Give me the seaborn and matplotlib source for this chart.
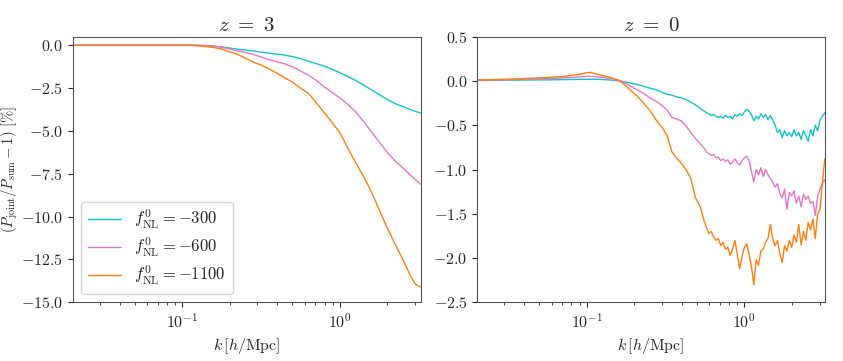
import numpy as np
import pandas as pd
import matplotlib
matplotlib.use("Agg")
import matplotlib.pyplot as plt
import seaborn as sns

# fNL labels and colours
labels = [r"$f^0_{\rm NL} = -300$", r"$f^0_{\rm NL} = -600$", r"$f^0_{\rm NL} = -1100$"]
colors = ["#17becf", "#e377c2", "#ff7f0e"]

# z = 3 panel (log10 k, percent difference)
logk_z3 = [-1.69, -1.5, -1.3, -1.1, -1.0, -0.95, -0.9, -0.85, -0.8, -0.75, -0.7, -0.65,
           -0.6, -0.55, -0.5, -0.45, -0.4, -0.35, -0.3, -0.25, -0.2, -0.15, -0.1, -0.05,
           0.0, 0.05, 0.1, 0.15, 0.2, 0.25, 0.3, 0.35, 0.4, 0.45, 0.48, 0.51]
m300_z3 = [0, 0, 0, 0, 0, 0, -0.01, -0.03, -0.06, -0.09, -0.16, -0.23, -0.28, -0.33,
           -0.40, -0.46, -0.52, -0.57, -0.66, -0.78, -0.93, -1.07, -1.22, -1.40, -1.60,
           -1.82, -2.05, -2.32, -2.60, -2.88, -3.16, -3.40, -3.58, -3.76, -3.86, -3.95]
m600_z3 = [0, 0, 0, 0, 0, 0, 0, -0.01, -0.04, -0.12, -0.22, -0.33, -0.42, -0.53, -0.68,
           -0.84, -0.96, -1.08, -1.27, -1.50, -1.74, -2.05, -2.42, -2.75, -3.07, -3.45,
           -3.88, -4.45, -5.05, -5.65, -6.24, -6.75, -7.15, -7.60, -7.85, -8.10]
m1100_z3 = [0, 0, 0, 0, 0, 0, -0.03, -0.08, -0.13, -0.22, -0.38, -0.52, -0.75, -0.98,
            -1.15, -1.38, -1.62, -1.90, -2.15, -2.50, -2.80, -3.35, -3.92, -4.50, -5.10,
            -6.00, -6.85, -7.65, -8.55, -9.60, -10.65, -11.60, -12.50, -13.50, -13.95, -14.10]

# z = 0 panel
logk_z0 = [-1.69, -1.5, -1.3, -1.15, -1.05, -0.98, -0.92, -0.86, -0.8, -0.76, -0.72, -0.68,
           -0.64, -0.6, -0.56, -0.52, -0.49, -0.46, -0.43, -0.4, -0.37, -0.34, -0.31, -0.28,
           -0.255,
           -0.24, -0.225, -0.21, -0.195, -0.18, -0.165, -0.15, -0.135, -0.12, -0.105,
           -0.09, -0.075, -0.06, -0.045, -0.03, -0.015, 0.0, 0.015, 0.03, 0.045,
           0.06, 0.075, 0.09, 0.105, 0.12, 0.135, 0.15, 0.165, 0.18, 0.195,
           0.21, 0.225, 0.24, 0.255, 0.27, 0.285, 0.3, 0.315, 0.33, 0.345,
           0.36, 0.375, 0.39, 0.405, 0.42, 0.435, 0.45, 0.465, 0.48, 0.495, 0.51]
m300_z0 = [0.005, 0.01, 0.012, 0.015, 0.018, 0.02, 0.018, 0.012, 0.003, -0.01, -0.025, -0.04,
           -0.06, -0.08, -0.10, -0.13, -0.15, -0.16, -0.18, -0.19, -0.21, -0.24, -0.27, -0.31,
           -0.34,
           -0.36, -0.37, -0.39, -0.38, -0.40, -0.41, -0.40, -0.42, -0.39, -0.41,
           -0.40, -0.43, -0.38, -0.40, -0.37, -0.39, -0.35, -0.32, -0.34, -0.38,
           -0.45, -0.40, -0.43, -0.37, -0.41, -0.38, -0.44, -0.39, -0.44, -0.50,
           -0.58, -0.55, -0.64, -0.56, -0.62, -0.58, -0.63, -0.55, -0.62, -0.58,
           -0.66, -0.56, -0.62, -0.68, -0.55, -0.62, -0.50, -0.56, -0.44, -0.40, -0.36]
m600_z0 = [0.01, 0.015, 0.025, 0.035, 0.045, 0.053, 0.045, 0.03, 0.01, -0.02, -0.06, -0.10,
           -0.14, -0.19, -0.23, -0.28, -0.33, -0.41, -0.43, -0.45, -0.51, -0.58, -0.65, -0.71,
           -0.76,
           -0.80, -0.82, -0.84, -0.83, -0.87, -0.86, -0.90, -0.88, -0.91, -0.89,
           -0.94, -0.92, -0.88, -0.92, -0.95, -0.90, -0.87, -0.85, -0.90, -1.02,
           -1.14, -1.00, -1.06, -0.98, -1.08, -1.00, -1.06, -1.10, -1.14, -1.20,
           -1.16, -1.27, -1.32, -1.22, -1.45, -1.26, -1.30, -1.24, -1.38, -1.30,
           -1.42, -1.28, -1.34, -1.30, -1.38, -1.36, -1.52, -1.30, -1.22, -1.15, -1.12]
m1100_z0 = [0.01, 0.02, 0.035, 0.05, 0.075, 0.098, 0.07, 0.045, 0.01, -0.04, -0.11, -0.17,
            -0.25, -0.33, -0.44, -0.53, -0.62, -0.80, -0.87, -0.93, -1.00, -1.10, -1.32, -1.42,
            -1.58,
            -1.66, -1.72, -1.70, -1.76, -1.80, -1.78, -1.86, -1.82, -1.90, -1.88,
            -1.97, -1.90, -1.80, -1.95, -2.12, -1.98, -1.88, -1.84, -1.96, -2.10,
            -2.30, -2.02, -2.08, -1.92, -1.90, -1.82, -1.78, -1.62, -1.78, -1.86,
            -1.80, -1.95, -2.05, -1.86, -1.92, -1.80, -1.88, -1.74, -1.82, -1.62,
            -1.85, -1.70, -1.80, -1.60, -1.68, -1.56, -1.78, -1.50, -1.45, -1.15, -0.88]


def to_frame(logk, series):
    parts = []
    for lab, vals in zip(labels, series):
        parts.append(pd.DataFrame({"k": 10 ** np.array(logk), "diff": vals, "model": lab}))
    return pd.concat(parts, ignore_index=True)


df_z3 = to_frame(logk_z3, [m300_z3, m600_z3, m1100_z3])
df_z0 = to_frame(logk_z0, [m300_z0, m600_z0, m1100_z0])

sns.set_style("ticks")
plt.rcParams["font.family"] = "serif"
plt.rcParams["font.serif"] = ["cmr10"]
plt.rcParams["mathtext.fontset"] = "cm"
plt.rcParams["axes.formatter.use_mathtext"] = True
plt.rcParams["axes.unicode_minus"] = True

pal = dict(zip(labels, colors))

fig, axes = plt.subplots(1, 2, figsize=(8.43, 3.61), dpi=100)
fig.subplots_adjust(left=0.0863, right=0.9787, bottom=0.1626, top=0.8983, wspace=0.163)

ax = axes[0]
sns.lineplot(data=df_z3, x="k", y="diff", hue="model", palette=pal, hue_order=labels,
             linewidth=1.0, errorbar=None, ax=ax)
ax.set_xscale("log")
ax.set_xlim(0.0202, 3.25)
ax.set_ylim(-15, 0.5)
ax.set_yticks(np.arange(-15, 0.1, 2.5))
ax.set_title(r"$z\ =\ 3$", fontsize=15, pad=4)
ax.set_xlabel(r"$k\,[h/{\rm Mpc}]$", fontsize=11.5)
ax.set_ylabel(r"$(P_{\rm joint}/P_{\rm sum} - 1)\ [\%]$", fontsize=10.5)
ax.yaxis.set_label_coords(-0.152, 0.5)
sns.move_legend(ax, "lower left", title=None, fontsize=12, labelspacing=0.3)

ax = axes[1]
sns.lineplot(data=df_z0, x="k", y="diff", hue="model", palette=pal, hue_order=labels,
             linewidth=1.0, errorbar=None, legend=False, ax=ax)
ax.set_xscale("log")
ax.set_xlim(0.0202, 3.25)
ax.set_ylim(-2.5, 0.5)
ax.set_yticks(np.arange(-2.5, 0.51, 0.5))
ax.set_title(r"$z\ =\ 0$", fontsize=15, pad=4)
ax.set_xlabel(r"$k\,[h/{\rm Mpc}]$", fontsize=11.5)
ax.set_ylabel("")

for ax in axes:
    ax.tick_params(labelsize=11.5)
    for s in ax.spines.values():
        s.set_color("#555555")

plt.savefig("out.png", dpi=100)
plt.close()
